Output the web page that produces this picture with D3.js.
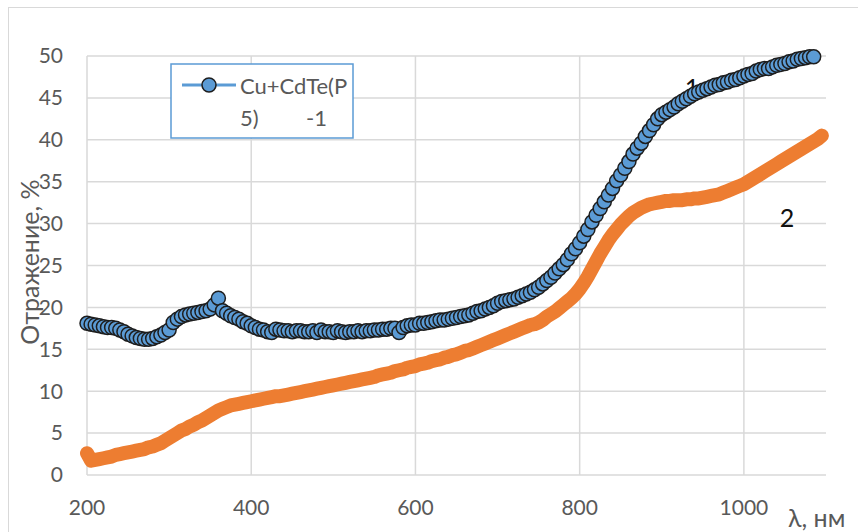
<!DOCTYPE html>
<html>
<head>
<meta charset="utf-8">
<script src="https://cdn.jsdelivr.net/npm/d3@7"></script>
<style>
  body { margin: 0; background: #fff; }
  svg text { font-family: Lato, "Open Sans", sans-serif; }
</style>
</head>
<body>
<div id="chart"></div>
<script>
// Wavelength grid (nm), one reading every 5 nm
const lambda1 = d3.range(200, 1090, 5);   // 200..1085
const lambda2 = d3.range(200, 1100, 5);   // 200..1095

// Curve 1: Cu+CdTe(P5), reflectance %
const refl1 = [
  18.1, 18.0, 17.9, 17.8, 17.7, 17.6, 17.6, 17.5, 17.3, 17.1,
  16.8, 16.6, 16.4, 16.3, 16.2, 16.2, 16.3, 16.5, 16.7, 17.0,
  17.3, 18.2, 18.6, 18.9, 19.1, 19.2, 19.3, 19.4, 19.5, 19.6,
  19.8, 20.3, 21.1, 19.6, 19.3, 19.0, 18.8, 18.6, 18.3, 18.1,
  17.8, 17.6, 17.4, 17.3, 17.1, 17.0, 17.4, 17.3, 17.2, 17.2,
  17.1, 17.2, 17.2, 17.1, 17.1, 17.2, 17.0, 17.3, 17.1, 17.1,
  17.0, 17.2, 17.1, 17.0, 17.1, 17.1, 17.2, 17.1, 17.2, 17.2,
  17.3, 17.3, 17.4, 17.4, 17.5, 17.5, 17.0, 17.6, 17.8, 17.9,
  17.9, 18.1, 18.1, 18.2, 18.3, 18.4, 18.5, 18.5, 18.6, 18.7,
  18.8, 18.9, 19.0, 19.1, 19.3, 19.5, 19.6, 19.8, 20.0, 20.2,
  20.5, 20.7, 20.8, 20.9, 21.0, 21.2, 21.4, 21.6, 21.8, 22.1,
  22.4, 22.8, 23.2, 23.6, 24.1, 24.6, 25.1, 25.7, 26.4, 27.0,
  27.7, 28.5, 29.3, 30.2, 31.0, 31.8, 32.6, 33.4, 34.2, 35.1,
  35.8, 36.6, 37.4, 38.3, 39.0, 39.6, 40.4, 41.1, 41.8, 42.5,
  43.0, 43.3, 43.6, 43.9, 44.3, 44.6, 44.9, 45.2, 45.5, 45.7,
  45.9, 46.1, 46.3, 46.5, 46.6, 46.8, 46.9, 47.1, 47.2, 47.4,
  47.6, 47.8, 47.9, 48.2, 48.4, 48.5, 48.5, 48.7, 48.9, 49.0,
  49.1, 49.3, 49.4, 49.6, 49.7, 49.8, 49.9, 49.9
];

// Curve 2, reflectance %
const refl2 = [
  2.6, 1.7, 1.8, 1.9, 2.0, 2.1, 2.2, 2.4, 2.5, 2.6,
  2.7, 2.8, 2.9, 3.0, 3.1, 3.3, 3.4, 3.6, 3.8, 4.1,
  4.4, 4.7, 5.0, 5.3, 5.5, 5.8, 6.0, 6.3, 6.5, 6.8,
  7.1, 7.4, 7.7, 7.9, 8.1, 8.3, 8.4, 8.5, 8.6, 8.7,
  8.8, 8.9, 9.0, 9.1, 9.2, 9.3, 9.4, 9.4, 9.5, 9.6,
  9.7, 9.8, 9.9, 10.0, 10.1, 10.2, 10.3, 10.4, 10.5, 10.6,
  10.7, 10.8, 10.9, 11.0, 11.1, 11.2, 11.3, 11.4, 11.5, 11.6,
  11.7, 11.9, 12.0, 12.1, 12.2, 12.4, 12.5, 12.6, 12.8, 12.9,
  13.0, 13.2, 13.3, 13.4, 13.6, 13.7, 13.8, 14.0, 14.1, 14.3,
  14.4, 14.6, 14.8, 14.9, 15.1, 15.3, 15.5, 15.7, 15.9, 16.1,
  16.3, 16.5, 16.7, 16.9, 17.1, 17.3, 17.5, 17.7, 17.9, 18.0,
  18.2, 18.5, 18.9, 19.2, 19.5, 19.9, 20.3, 20.7, 21.1, 21.6,
  22.2, 22.9, 23.7, 24.6, 25.5, 26.4, 27.2, 28.0, 28.7, 29.3,
  29.9, 30.4, 30.9, 31.3, 31.6, 31.9, 32.1, 32.3, 32.4, 32.5,
  32.6, 32.7, 32.7, 32.8, 32.8, 32.8, 32.9, 32.9, 33.0, 33.0,
  33.1, 33.2, 33.3, 33.4, 33.5, 33.7, 33.9, 34.1, 34.3, 34.5,
  34.7, 35.0, 35.3, 35.6, 35.9, 36.2, 36.5, 36.8, 37.1, 37.4,
  37.7, 38.0, 38.3, 38.6, 38.9, 39.2, 39.5, 39.8, 40.1, 40.5
];

const xTicks = [200, 400, 600, 800, 1000];
const yTicks = [0, 5, 10, 15, 20, 25, 30, 35, 40, 45, 50];
const legendLines = ["Cu+CdTe(P", "5)"];

const width = 858, height = 532;
const textColor = "#595959";
const gridColor = "#d9d9d9";
const blue = "#5b9bd5", orange = "#ed7d31";

const x = d3.scaleLinear().domain([200, 1100]).range([87, 826]);
const y = d3.scaleLinear().domain([0, 50]).range([475, 56]);

const svg = d3.select("#chart").append("svg")
    .attr("width", width)
    .attr("height", height);

// outer chart border
svg.append("rect")
    .attr("x", 8.5).attr("y", 7.5)
    .attr("width", 900).attr("height", 600)
    .attr("fill", "none")
    .attr("stroke", gridColor);

// horizontal gridlines
svg.append("g")
  .selectAll("line")
  .data(yTicks)
  .join("line")
    .attr("x1", x(200)).attr("x2", x(1100))
    .attr("y1", d => y(d)).attr("y2", d => y(d))
    .attr("stroke", gridColor)
    .attr("stroke-width", 1.5);

// vertical gridlines
svg.append("g")
  .selectAll("line")
  .data(xTicks)
  .join("line")
    .attr("x1", d => x(d)).attr("x2", d => x(d))
    .attr("y1", y(0)).attr("y2", y(50))
    .attr("stroke", gridColor)
    .attr("stroke-width", 1.5);

// tick labels
svg.append("g")
  .selectAll("text")
  .data(yTicks)
  .join("text")
    .attr("x", 63)
    .attr("y", d => y(d))
    .attr("dy", "0.35em")
    .attr("text-anchor", "end")
    .attr("font-size", 21)
    .attr("fill", textColor)
    .text(d => d);

svg.append("g")
  .selectAll("text")
  .data(xTicks)
  .join("text")
    .attr("x", d => x(d))
    .attr("y", 508)
    .attr("dy", "0.35em")
    .attr("text-anchor", "middle")
    .attr("font-size", 21)
    .attr("fill", textColor)
    .text(d => d);

// axis titles
svg.append("text")
    .attr("transform", "translate(30,262) rotate(-90)")
    .attr("text-anchor", "middle")
    .attr("dy", "0.35em")
    .attr("font-size", 25)
    .attr("fill", textColor)
    .text("Отражение, %");

svg.append("text")
    .attr("x", 788)
    .attr("y", 518)
    .attr("dy", "0.35em")
    .attr("font-size", 25)
    .attr("fill", textColor)
    .text("λ, нм");

// curve 2: thick orange line
const line = d3.line()
    .x(d => x(d[0]))
    .y(d => y(d[1]));

svg.append("path")
    .attr("d", line(d3.zip(lambda2, refl2)))
    .attr("fill", "none")
    .attr("stroke", orange)
    .attr("stroke-width", 14)
    .attr("stroke-linecap", "round")
    .attr("stroke-linejoin", "round");

// curve labels
svg.append("text")
    .attr("x", 692).attr("y", 88)
    .attr("dy", "0.35em")
    .attr("text-anchor", "middle")
    .attr("font-size", 25)
    .attr("fill", "#111")
    .text("1");

svg.append("text")
    .attr("x", 787).attr("y", 218)
    .attr("dy", "0.35em")
    .attr("text-anchor", "middle")
    .attr("font-size", 25)
    .attr("fill", "#111")
    .text("2");

// curve 1: blue markers
svg.append("g")
  .selectAll("circle")
  .data(d3.zip(lambda1, refl1))
  .join("circle")
    .attr("cx", d => x(d[0]))
    .attr("cy", d => y(d[1]))
    .attr("r", 7)
    .attr("fill", blue)
    .attr("stroke", "#1e1e1e")
    .attr("stroke-width", 1.5);

// legend
const legend = svg.append("g");
legend.append("rect")
    .attr("x", 171).attr("y", 64)
    .attr("width", 182).attr("height", 74)
    .attr("fill", "#fff")
    .attr("stroke", blue)
    .attr("stroke-width", 1.5);
legend.append("line")
    .attr("x1", 182).attr("x2", 236)
    .attr("y1", 85).attr("y2", 85)
    .attr("stroke", blue)
    .attr("stroke-width", 3);
legend.append("circle")
    .attr("cx", 209).attr("cy", 85)
    .attr("r", 7)
    .attr("fill", blue)
    .attr("stroke", "#1e1e1e")
    .attr("stroke-width", 1.5);
legend.append("text")
    .attr("x", 240).attr("y", 86)
    .attr("dy", "0.35em")
    .attr("font-size", 22)
    .attr("fill", textColor)
    .text(legendLines[0]);
legend.append("text")
    .attr("x", 240).attr("y", 118)
    .attr("dy", "0.35em")
    .attr("font-size", 22)
    .attr("fill", textColor)
    .text(legendLines[1]);
legend.append("text")
    .attr("x", 306).attr("y", 118)
    .attr("dy", "0.35em")
    .attr("font-size", 22)
    .attr("fill", textColor)
    .text("-1");
</script>
</body>
</html>
